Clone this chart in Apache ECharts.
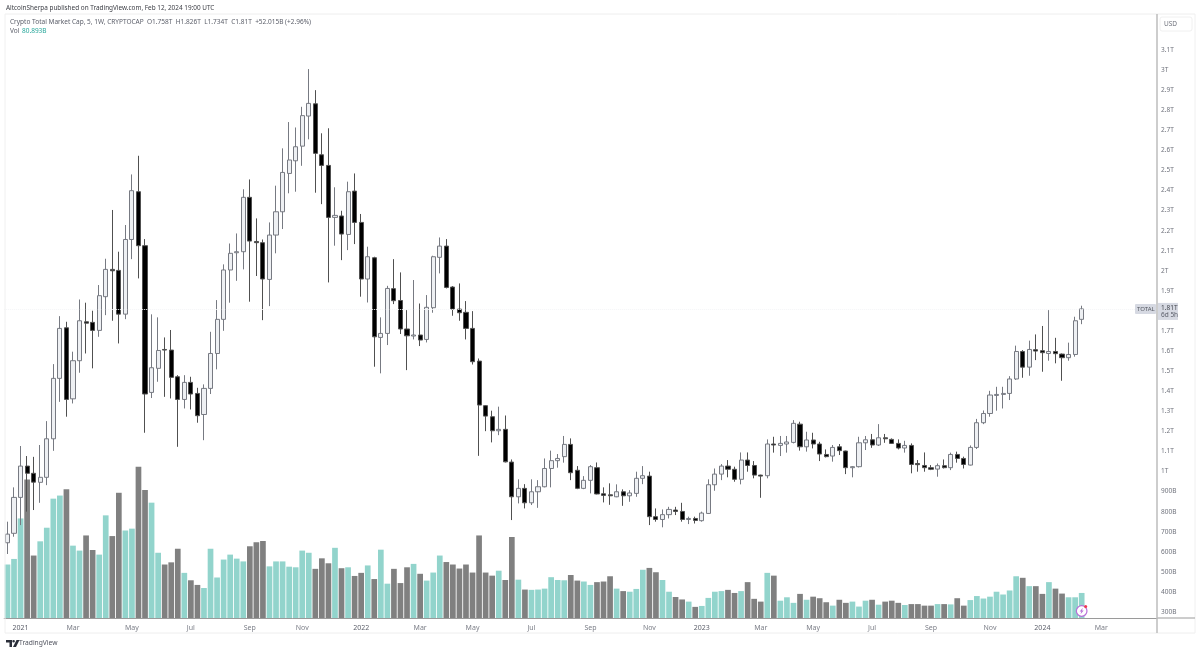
<!DOCTYPE html>
<html>
<head>
<meta charset="utf-8">
<style>html,body{margin:0;padding:0;background:#fff}#c{width:1200px;height:653px}#c canvas{filter:blur(.4px)}</style>
<script src="https://cdn.jsdelivr.net/npm/echarts@6/dist/echarts.min.js"></script>
</head>
<body>
<div id="c"></div>
<script>
const categories = [
'2020-12-21','2020-12-28',
'2021-01-04','2021-01-11','2021-01-18','2021-01-25','2021-02-01','2021-02-08','2021-02-15','2021-02-22','2021-03-01','2021-03-08','2021-03-15','2021-03-22','2021-03-29','2021-04-05','2021-04-12','2021-04-19','2021-04-26','2021-05-03','2021-05-10','2021-05-17','2021-05-24','2021-05-31','2021-06-07','2021-06-14','2021-06-21','2021-06-28','2021-07-05','2021-07-12','2021-07-19','2021-07-26','2021-08-02','2021-08-09','2021-08-16','2021-08-23','2021-08-30','2021-09-06','2021-09-13','2021-09-20','2021-09-27','2021-10-04','2021-10-11','2021-10-18','2021-10-25','2021-11-01','2021-11-08','2021-11-15','2021-11-22','2021-11-29','2021-12-06','2021-12-13','2021-12-20','2021-12-27',
'2022-01-03','2022-01-10','2022-01-17','2022-01-24','2022-01-31','2022-02-07','2022-02-14','2022-02-21','2022-02-28','2022-03-07','2022-03-14','2022-03-21','2022-03-28','2022-04-04','2022-04-11','2022-04-18','2022-04-25','2022-05-02','2022-05-09','2022-05-16','2022-05-23','2022-05-30','2022-06-06','2022-06-13','2022-06-20','2022-06-27','2022-07-04','2022-07-11','2022-07-18','2022-07-25','2022-08-01','2022-08-08','2022-08-15','2022-08-22','2022-08-29','2022-09-05','2022-09-12','2022-09-19','2022-09-26','2022-10-03','2022-10-10','2022-10-17','2022-10-24','2022-10-31','2022-11-07','2022-11-14','2022-11-21','2022-11-28','2022-12-05','2022-12-12','2022-12-19','2022-12-26',
'2023-01-02','2023-01-09','2023-01-16','2023-01-23','2023-01-30','2023-02-06','2023-02-13','2023-02-20','2023-02-27','2023-03-06','2023-03-13','2023-03-20','2023-03-27','2023-04-03','2023-04-10','2023-04-17','2023-04-24','2023-05-01','2023-05-08','2023-05-15','2023-05-22','2023-05-29','2023-06-05','2023-06-12','2023-06-19','2023-06-26','2023-07-03','2023-07-10','2023-07-17','2023-07-24','2023-07-31','2023-08-07','2023-08-14','2023-08-21','2023-08-28','2023-09-04','2023-09-11','2023-09-18','2023-09-25','2023-10-02','2023-10-09','2023-10-16','2023-10-23','2023-10-30','2023-11-06','2023-11-13','2023-11-20','2023-11-27','2023-12-04','2023-12-11','2023-12-18','2023-12-25',
'2024-01-01','2024-01-08','2024-01-15','2024-01-22','2024-01-29','2024-02-05','2024-02-12','2024-02-19','2024-02-26','2024-03-04','2024-03-11','2024-03-18','2024-03-25','2024-04-01','2024-04-08','2024-04-15','2024-04-22','2024-04-29'];

const opens = [645,692,871,1027,991,946,971,1163,1464,1716,1362,1552,1746,1743,1703,1871,2007,2002,1784,2156,2394,2125,1394,1514,1608,1605,1472,1359,1444,1389,1284,1414,1588,1758,2004,2090,2095,2366,2146,2140,1957,2178,2294,2485,2548,2621,2771,2832,2578,2525,2266,2273,2181,2397,2241,1959,2065,1668,1688,1911,1852,1710,1675,1680,1658,1816,2067,2123,1919,1809,1793,1713,1550,1328,1273,1203,1210,1047,874,916,844,899,924,1015,1054,1074,1135,1006,916,956,1019,889,884,874,899,879,891,966,977,775,761,785,808,801,761,766,755,791,934,987,1027,1011,961,1057,1030,982,979,1137,1130,1137,1145,1236,1123,1157,1137,1085,1077,1123,1102,1019,1024,1143,1158,1132,1168,1160,1140,1117,1130,1040,1030,1019,1012,1029,1019,1085,1065,1032,1120,1243,1289,1379,1384,1389,1461,1598,1520,1607,1602,1588,1598,1585,1567,1583,1758];
const closes = [688,871,1027,991,947,971,1163,1464,1713,1359,1552,1751,1739,1703,1876,2007,2000,1784,2156,2399,2125,1386,1517,1603,1605,1469,1359,1444,1386,1278,1414,1588,1758,2004,2087,2095,2366,2148,2140,1959,2178,2294,2490,2552,2618,2773,2834,2585,2525,2266,2276,2183,2394,2241,1959,2070,1671,1688,1912,1851,1710,1676,1680,1655,1818,2070,2123,1917,1809,1791,1713,1547,1331,1276,1203,1210,1048,874,916,844,899,924,1015,1054,1065,1135,994,916,956,1024,888,881,879,899,879,893,966,979,775,761,785,811,801,761,766,756,793,934,987,1027,1011,961,1057,1030,982,977,1137,1132,1140,1147,1240,1123,1157,1137,1087,1074,1120,1104,1019,1024,1143,1158,1132,1168,1163,1140,1117,1130,1035,1034,1019,1011,1029,1019,1085,1065,1035,1120,1243,1289,1381,1384,1389,1461,1598,1520,1608,1600,1592,1598,1587,1567,1583,1751,1810];
const lows = [589,675,733,800,808,844,932,1103,1347,1273,1339,1492,1588,1514,1671,1779,1751,1638,1759,2058,1962,1193,1366,1447,1372,1364,1123,1314,1309,1243,1156,1386,1509,1701,1841,1950,2007,1846,1974,1754,1824,2087,2208,2386,2394,2523,2655,2389,2332,1942,2125,2053,2103,2133,1871,1842,1522,1489,1630,1834,1685,1505,1658,1625,1643,1791,1987,1912,1776,1751,1658,1533,1078,1201,1145,1181,1045,758,841,816,833,819,921,921,1019,1044,957,912,912,891,886,846,834,872,829,849,874,937,733,750,722,766,783,750,738,741,750,789,904,957,971,949,936,999,966,869,966,1094,1077,1094,1140,1104,1099,1115,1052,1070,1049,1082,987,971,1020,1107,1118,1127,1143,1137,1110,1094,991,999,999,1007,974,1015,1007,1044,1015,1030,1112,1236,1273,1303,1314,1356,1456,1467,1477,1555,1497,1552,1539,1452,1552,1572,1734];
const highs = [750,921,1127,1077,1073,1132,1251,1535,1774,1746,1597,1857,1841,1801,1929,2060,2303,2095,2228,2480,2573,2158,1783,1768,1668,1705,1480,1480,1472,1417,1434,1696,1854,2032,2136,2186,2406,2455,2261,2156,2241,2424,2610,2741,2714,2817,3005,2900,2685,2710,2416,2299,2444,2485,2283,2120,2070,1768,1925,2058,1992,1804,1954,1837,1879,2075,2166,2158,1924,1937,1849,1799,1563,1331,1303,1323,1279,1060,961,937,961,957,1065,1104,1087,1177,1165,1027,977,1032,1045,921,941,936,911,907,999,1027,999,816,811,824,824,844,775,775,800,961,1015,1037,1057,1024,1095,1095,1052,984,1160,1173,1177,1177,1256,1248,1198,1193,1148,1110,1132,1137,1104,1027,1173,1177,1187,1236,1187,1165,1160,1153,1140,1057,1095,1032,1040,1060,1094,1099,1074,1130,1262,1304,1402,1422,1422,1475,1627,1605,1652,1683,1725,1804,1666,1588,1642,1771,1826];
const volumes = [173,191,322,448,202,248,292,386,396,416,234,218,267,220,205,332,265,405,283,289,489,414,373,211,173,180,224,146,122,107,97,224,131,189,205,192,183,232,245,249,167,183,183,166,164,218,211,159,193,177,227,161,164,136,146,170,126,221,111,159,113,164,175,143,121,147,202,181,173,160,173,147,267,147,137,153,123,262,124,92,91,92,95,132,123,122,139,121,118,107,116,118,135,95,87,85,94,156,162,148,123,85,68,60,53,36,39,65,85,87,91,81,87,116,62,53,146,137,56,67,49,78,59,69,64,51,40,59,49,53,37,56,59,43,53,56,49,42,45,45,40,40,45,45,44,64,40,58,71,63,69,85,76,89,135,130,103,103,78,116,95,79,67,67,81];
const tickDates = ['2021-01-04','2021-03-01','2021-05-03','2021-07-05','2021-09-06','2021-11-01','2022-01-03','2022-03-07','2022-05-02','2022-07-04','2022-09-05','2022-11-07','2023-01-02','2023-03-06','2023-05-01','2023-07-03','2023-09-04','2023-11-06','2024-01-01','2024-03-04'];
const tickTexts = ['2021','Mar','May','Jul','Sep','Nov','2022','Mar','May','Jul','Sep','Nov','2023','Mar','May','Jul','Sep','Nov','2024','Mar'];
const titleText = 'AltcoinSherpa published on TradingView.com, Feb 12, 2024 19:00 UTC';
const legendText = 'Crypto Total Market Cap, 5, 1W, CRYPTOCAP  O1.758T  H1.826T  L1.734T  C1.81T  +52.015B (+2.96%)';
const volLabel = 'Vol';
const volValue = '80.893B';

const UP_VOL = '#92d4cc', DOWN_VOL = '#808080';
const FONT = '"Noto Sans", sans-serif';
const candleData = opens.map((o, i) => [o, closes[i], lows[i], highs[i]]);
const volData = volumes.map((v, i) => ({value: v, itemStyle: {color: closes[i] >= opens[i] ? UP_VOL : DOWN_VOL}}));
const tickMap = {};
tickDates.forEach((d, i) => tickMap[d] = tickTexts[i]);

const chart = echarts.init(document.getElementById('c'), null, {renderer: 'canvas'});
const LEFT = 4.2, WIDTH = 1152.8;
const line = (x1, y1, x2, y2, stroke, w) => ({type: 'line', silent: true, z: 5, shape: {x1, y1, x2, y2}, style: {stroke, lineWidth: w || 1}});
const txt = (x, y, text, size, fill, extra) => ({type: 'text', silent: true, z: 20, x, y, style: Object.assign({text, fontSize: size, fontFamily: FONT, fill, textVerticalAlign: 'middle'}, extra || {})});

chart.setOption({
  animation: false,
  backgroundColor: '#ffffff',
  grid: [
    {left: LEFT, width: WIDTH, top: 50, height: 562},
    {left: LEFT, width: WIDTH, top: 460, height: 158}
  ],
  xAxis: [
    {type: 'category', gridIndex: 0, data: categories, show: false},
    {type: 'category', gridIndex: 1, data: categories,
      axisLine: {lineStyle: {color: '#9a9a9a', width: 1}},
      axisTick: {show: false}, splitLine: {show: false},
      axisLabel: {
        interval: (i, v) => tickMap[v] !== undefined,
        formatter: v => { const t = tickMap[v]; return /^\d/.test(t) ? '{y|' + t + '}' : '{m|' + t + '}'; },
        margin: 6,
        rich: {
          y: {fontSize: 7, color: '#5d606b', fontFamily: FONT},
          m: {fontSize: 7, color: '#7c7f88', fontFamily: FONT}
        }
      }}
  ],
  yAxis: [
    {type: 'value', gridIndex: 0, position: 'right', min: 300, max: 3100, interval: 100,
      axisLine: {show: false}, axisTick: {show: false}, splitLine: {show: false},
      axisLabel: {margin: 4, fontSize: 6.5, color: '#6f727c', fontFamily: FONT, align: 'left',
        showMinLabel: true, showMaxLabel: true,
        formatter: v => v >= 1000 ? (v / 1000) + 'T' : v + 'B'}},
    {type: 'value', gridIndex: 1, min: 0, max: 511, show: false}
  ],
  series: [
    {type: 'bar', xAxisIndex: 1, yAxisIndex: 1, data: volData, barWidth: 5.7, z: 1, silent: true},
    {type: 'candlestick', xAxisIndex: 0, yAxisIndex: 0, data: candleData, barWidth: 4.6, z: 3, silent: true,
      itemStyle: {color: '#eef0f3', color0: '#000000', borderColor: '#777a82', borderColor0: '#505050', borderWidth: 1},
      markLine: {silent: true, symbol: 'none', label: {show: false},
        lineStyle: {color: '#f4f5f7', type: 'dotted', width: 1},
        data: [{yAxis: closes[closes.length - 1]}]}
    }
  ]
});

const ty = chart.convertToPixel({yAxisIndex: 0}, closes[closes.length - 1]);
const lx = chart.convertToPixel({xAxisIndex: 0}, categories[closes.length - 1]);
const ly = 611;
chart.setOption({graphic: [
  line(5, 14, 1195, 14, '#eeeeee'),
  line(5, 14, 5, 633, '#f0f0f0'),
  line(5, 633, 1195, 633, '#eeeeee'),
  line(1195, 14, 1195, 633, '#f0f0f0'),
  line(1157, 618, 1195, 618, '#9a9a9a'),
  line(1157, 14, 1157, 633, '#bdbdbd', 1.5),
  {type: 'rect', silent: true, z: 6, shape: {x: 1160, y: 17, width: 32, height: 14, r: 2}, style: {fill: '#fff', stroke: '#f0f0f0'}},
  txt(1164, 24, 'USD', 6.5, '#6f727c'),
  txt(6, 8, titleText, 6.4, '#3b3d44'),
  txt(10, 22, legendText, 6.5, '#5d606b'),
  txt(10, 31.5, volLabel, 6.5, '#5d606b'),
  txt(22, 31.5, volValue, 6.5, '#26a69a'),
  {type: 'rect', silent: true, z: 10, shape: {x: 1135, y: ty - 5, width: 21, height: 10, r: 1}, style: {fill: '#d6d9e2'}},
  txt(1137, ty, 'TOTAL', 6, '#555962'),
  {type: 'rect', silent: true, z: 10, shape: {x: 1158, y: ty - 6, width: 20, height: 17}, style: {fill: '#d6d9e2'}},
  txt(1161, ty - 1, '1.81T', 6.5, '#44474f'),
  txt(1161, ty + 6.5, '6d 5h', 6.5, '#5d606b'),
  {type: 'circle', silent: true, z: 12, shape: {cx: lx, cy: ly, r: 5.3}, style: {fill: '#ffffff', stroke: '#b86fd8', lineWidth: 1.2}},
  {type: 'polygon', silent: true, z: 13, shape: {points: [[lx + 1.2, ly - 3.2], [lx - 2, ly + .5], [lx - .3, ly + .5], [lx - 1.2, ly + 3.2], [lx + 2, ly - .5], [lx + .3, ly - .5]]}, style: {fill: '#b86fd8'}},
  {type: 'circle', silent: true, z: 14, shape: {cx: lx + 4, cy: ly - 4.4, r: 1.5}, style: {fill: '#f0394d'}},
  {type: 'polygon', silent: true, z: 13, shape: {points: [[6, 640], [12, 640], [12, 647], [9.5, 647], [9.5, 642.5], [6, 642.5]]}, style: {fill: '#2a2e39'}},
  {type: 'circle', silent: true, z: 13, shape: {cx: 13.6, cy: 641.3, r: 1.3}, style: {fill: '#2a2e39'}},
  {type: 'polygon', silent: true, z: 13, shape: {points: [[16.5, 640], [19.5, 640], [16, 647], [13, 647]]}, style: {fill: '#2a2e39'}},
  txt(19, 643.5, 'TradingView', 6.7, '#50535e')
]});
</script>
</body>
</html>
